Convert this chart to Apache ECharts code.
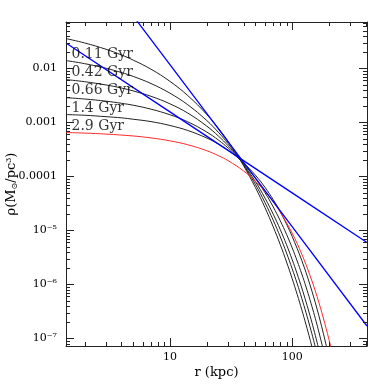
<!DOCTYPE html>
<html><head><meta charset="utf-8">
<script src="https://cdn.jsdelivr.net/npm/echarts@6/dist/echarts.min.js"></script>
<style>html,body{margin:0;padding:0;background:#fff}#c{width:388px;height:388px}</style>
</head><body><div id="c"></div>
<script>
// ---- axis ranges and ticks ----
const xMin = 1.41, xMax = 410;
const yMin = 7.2e-8, yMax = 0.072;
const xMajorTicks = [10, 100];
const xTickLabels = ['10', '100'];
const xMinorTicks = [2,3,4,5,6,7,8,9,20,30,40,50,60,70,80,90,200,300,400];
const yMajorTicks = [1e-7, 1e-6, 1e-5, 1e-4, 1e-3, 1e-2];
const yTickLabels = ['10\u207B\u2077', '10\u207B\u2076', '10\u207B\u2075', '0.0001', '0.001', '0.01'];
const yMinorTicks = [8e-8,9e-8,2e-7,3e-7,4e-7,5e-7,6e-7,7e-7,8e-7,9e-7,2e-6,3e-6,4e-6,5e-6,6e-6,7e-6,8e-6,9e-6,
  2e-5,3e-5,4e-5,5e-5,6e-5,7e-5,8e-5,9e-5,2e-4,3e-4,4e-4,5e-4,6e-4,7e-4,8e-4,9e-4,2e-3,3e-3,4e-3,5e-3,6e-3,7e-3,8e-3,9e-3,2e-2,3e-2,4e-2,5e-2,6e-2,7e-2];

// ---- density profiles (r in kpc, rho in Msun/pc^3) ----
const r_011 = [1.41,2,3,4,5,7,10,14,20,25,30,35,40,50,60,70,80,90,100,110,120,130,140,150];
const rho_011 = [3.55e-2,2.95e-2,2.25e-2,1.77e-2,1.42e-2,9.62e-3,5.73e-3,3.12e-3,1.40e-3,7.67e-4,4.39e-4,2.60e-4,1.58e-4,6.22e-5,2.62e-5,1.16e-5,5.41e-6,2.59e-6,1.28e-6,6.50e-7,3.37e-7,1.78e-7,9.59e-8,5.22e-8];

const r_042 = [1.41,2,3,4,5,7,10,14,20,25,30,35,40,50,60,70,80,90,100,110,120,130,140,150,160];
const rho_042 = [1.39e-2,1.22e-2,1.00e-2,8.36e-3,7.08e-3,5.22e-3,3.46e-3,2.11e-3,1.08e-3,6.47e-4,4.00e-4,2.53e-4,1.63e-4,7.10e-5,3.24e-5,1.54e-5,7.55e-6,3.80e-6,1.95e-6,1.03e-6,5.48e-7,2.98e-7,1.64e-7,9.12e-8,5.13e-8];

const r_066 = [1.41,2,3,4,5,7,10,14,20,25,30,35,40,50,60,70,80,90,100,110,120,130,140,150,160,170];
const rho_066 = [6.18e-3,5.65e-3,4.91e-3,4.32e-3,3.81e-3,3.03e-3,2.20e-3,1.48e-3,8.51e-4,5.53e-4,3.66e-4,2.46e-4,1.67e-4,8.00e-5,3.94e-5,1.99e-5,1.03e-5,5.40e-6,2.88e-6,1.56e-6,8.53e-7,4.72e-7,2.64e-7,1.49e-7,8.43e-8,4.84e-8];

const r_14 = [1.41,2,3,4,5,7,10,14,20,25,30,35,40,50,60,70,80,90,100,110,120,130,140,150,160,180];
const rho_14 = [2.86e-3,2.70e-3,2.46e-3,2.25e-3,2.07e-3,1.75e-3,1.38e-3,1.02e-3,6.61e-4,4.67e-4,3.33e-4,2.39e-4,1.73e-4,9.18e-5,4.97e-5,2.71e-5,1.50e-5,8.41e-6,4.75e-6,2.70e-6,1.55e-6,8.93e-7,5.16e-7,3.01e-7,1.77e-7,6.12e-8];

const r_29 = [1.41,2,3,4,5,7,10,14,20,25,30,35,40,50,60,70,80,90,100,120,140,160,180,200];
const rho_29 = [1.39e-3,1.35e-3,1.27e-3,1.21e-3,1.14e-3,1.03e-3,8.73e-4,7.05e-4,5.12e-4,3.93e-4,3.01e-4,2.32e-4,1.78e-4,1.05e-4,6.24e-5,3.70e-5,2.20e-5,1.30e-5,7.74e-6,2.75e-6,9.79e-7,3.48e-7,1.24e-7,4.43e-8];

const r_red = [1.41,2,3,5,7,10,14,20,25,30,40,50,60,70,80,100,120,140,160,180,200,220];
const rho_red = [6.46e-4,6.31e-4,6.05e-4,5.58e-4,5.14e-4,4.54e-4,3.84e-4,2.98e-4,2.40e-4,1.94e-4,1.26e-4,8.11e-5,5.24e-5,3.37e-5,2.16e-5,8.85e-6,3.61e-6,1.46e-6,5.92e-7,2.38e-7,9.55e-8,3.81e-8];

// power-law reference lines
const r_steep = [5, 10, 100, 410];
const rho_steep = [9.33e-2, 1.167e-2, 1.167e-5, 1.69e-7];
const r_shallow = [1.41, 10, 100, 410];
const rho_shallow = [2.95e-2, 1.56e-3, 4.94e-5, 5.96e-6];

// curve labels
const labelNames = ['0.11 Gyr', '0.42 Gyr', '0.66 Gyr', '1.4 Gyr', '2.9 Gyr'];
const labelR = [1.52, 1.52, 1.52, 1.52, 1.52];
const labelRho = [1.80e-2, 8.32e-3, 3.86e-3, 1.79e-3, 8.32e-4];

const FONT = 'DejaVu Serif';
const AX = '#222';
const MAJOR = 8, MINOR = 4;
const zip = (a, b) => a.map((v, i) => [v, b[i]]);
const lg = v => Math.log10(v);

function pickLabel(ticks, labels, v) {
  const i = ticks.findIndex(t => Math.abs(lg(t) - lg(v)) < 0.01);
  return i >= 0 ? labels[i] : '';
}

const xAxisMain = {
  type: 'log', logBase: 10, min: xMin, max: xMax, position: 'bottom',
  axisLine: { show: true, lineStyle: { color: AX, width: 1 } },
  axisTick: { show: false },
  axisLabel: { show: true, customValues: xMajorTicks, margin: 6, color: '#000', fontFamily: FONT, fontSize: 11,
    formatter: v => pickLabel(xMajorTicks, xTickLabels, v) },
  splitLine: { show: false },
  name: 'r (kpc)', nameLocation: 'middle', nameGap: 20, nameMoveOverlap: false,
  nameTextStyle: { fontFamily: FONT, fontSize: 13, color: '#000' }
};
const xAxisTop = {
  type: 'log', logBase: 10, min: xMin, max: xMax, position: 'top',
  axisLine: { show: true, lineStyle: { color: AX, width: 1 } },
  axisTick: { show: false }, axisLabel: { show: false }, splitLine: { show: false }
};
const yAxisMain = {
  type: 'log', logBase: 10, min: yMin, max: yMax, position: 'left',
  axisLine: { show: true, lineStyle: { color: AX, width: 1 } },
  axisTick: { show: false },
  axisLabel: { show: true, customValues: yMajorTicks, margin: 9, color: '#000', fontFamily: FONT, fontSize: 11,
    formatter: v => pickLabel(yMajorTicks, yTickLabels, v) },
  splitLine: { show: false },
  name: '{t|ρ(M}{s|⊙}{t|/pc}{u|3}{t|)}', nameLocation: 'middle', nameGap: 46, nameMoveOverlap: false,
  nameTextStyle: { fontFamily: FONT, fontSize: 13, color: '#000',
    rich: {
      t: { fontFamily: FONT, fontSize: 13, color: '#000', lineHeight: 16, verticalAlign: 'middle' },
      s: { fontFamily: FONT, fontSize: 8, color: '#000', lineHeight: 16, verticalAlign: 'bottom', padding: [0, 0, 1, 0] },
      u: { fontFamily: FONT, fontSize: 8, color: '#000', lineHeight: 16, verticalAlign: 'top', padding: [1, 0, 0, 0] }
    } }
};
const yAxisRight = {
  type: 'log', logBase: 10, min: yMin, max: yMax, position: 'right',
  axisLine: { show: true, lineStyle: { color: AX, width: 1 } },
  axisTick: { show: false }, axisLabel: { show: false }, splitLine: { show: false }
};

// tick marks drawn through the axes' own scales (api.coord) on all four frame sides
function tickSeries(values, isX, len) {
  return {
    type: 'custom', coordinateSystem: 'cartesian2d', xAxisIndex: 0, yAxisIndex: 0,
    silent: true, clip: false, z: 6,
    data: values.map(v => [v]),
    renderItem: (params, api) => {
      const v = api.value(0);
      const segs = [];
      if (isX) {
        const b = api.coord([v, yMin]), t = api.coord([v, yMax]);
        const x = Math.round(b[0]) + 0.5;
        segs.push([x, b[1], x, b[1] - len], [x, t[1], x, t[1] + len]);
      } else {
        const l = api.coord([xMin, v]), r = api.coord([xMax, v]);
        const y = Math.round(l[1]) + 0.5;
        segs.push([l[0], y, l[0] + len, y], [r[0], y, r[0] - len, y]);
      }
      return { type: 'group', children: segs.map(s => ({
        type: 'line', shape: { x1: s[0], y1: s[1], x2: s[2], y2: s[3] },
        style: { stroke: AX, lineWidth: 1 } })) };
    }
  };
}

function curve(r, rho, color) {
  return { type: 'line', data: zip(r, rho), showSymbol: false, symbol: 'none', smooth: 0.4,
    lineStyle: { color: color, width: 1 }, clip: true, z: 2, silent: true };
}
function straight(r, rho) {
  return { type: 'line', data: zip(r, rho), showSymbol: false, symbol: 'none', smooth: false,
    lineStyle: { color: '#0000ff', width: 1.3 }, clip: true, z: 3, silent: true };
}

const chart = echarts.init(document.getElementById('c'), null, { renderer: 'canvas' });
chart.setOption({
  animation: false,
  backgroundColor: '#fff',
  grid: { left: 66, right: 21, top: 22, bottom: 42, containLabel: false, outerBoundsMode: 'none' },
  xAxis: [xAxisMain, xAxisTop],
  yAxis: [yAxisMain, yAxisRight],
  series: [
    curve(r_011, rho_011, '#222'),
    curve(r_042, rho_042, '#222'),
    curve(r_066, rho_066, '#222'),
    curve(r_14, rho_14, '#222'),
    curve(r_29, rho_29, '#222'),
    curve(r_red, rho_red, '#ff2a2a'),
    straight(r_steep, rho_steep),
    straight(r_shallow, rho_shallow),
    tickSeries(xMajorTicks, true, MAJOR),
    tickSeries(xMinorTicks, true, MINOR),
    tickSeries(yMajorTicks, false, MAJOR),
    tickSeries(yMinorTicks, false, MINOR),
    {
      type: 'scatter', symbolSize: 1, itemStyle: { color: 'rgba(0,0,0,0)' }, z: 5, silent: true,
      data: labelNames.map((n, i) => ({ value: [labelR[i], labelRho[i]], name: n })),
      label: { show: true, position: 'right', distance: 1, formatter: p => p.name,
        fontFamily: FONT, fontSize: 14, color: '#000' }
    }
  ]
});
</script></body></html>
